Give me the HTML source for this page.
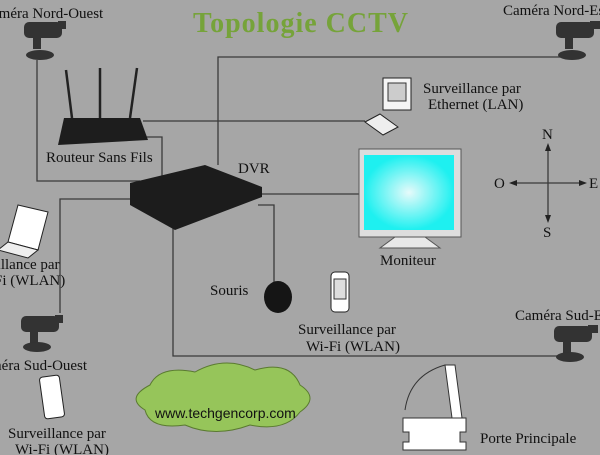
<!DOCTYPE html>
<html><head><style>
body{margin:0;background:#a6a6a6;}
svg{display:block;}
text{font-family:"Liberation Serif",serif;font-size:15px;fill:#111;}
</style></head><body>
<svg width="600" height="455" viewBox="0 0 600 455">
<rect width="600" height="455" fill="#a6a6a6"/>
<g stroke="#3a3a3a" stroke-width="1.3" fill="none">
<polyline points="37,60 37,181 140,181"/>
<polyline points="145,137 162,137 162,178"/>
<line x1="143" y1="121" x2="365" y2="121"/>
<polyline points="218,165 218,57 560,57"/>
<line x1="262" y1="194" x2="360" y2="194"/>
<polyline points="150,199 60,199 60,313"/>
<polyline points="173,228 173,356 560,356"/>
<polyline points="258,205 274,205 274,283"/>
<line x1="548" y1="146" x2="548" y2="220"/>
<line x1="512" y1="183" x2="584" y2="183"/>
</g>
<g fill="#222">
<polygon points="548,143 545,151 551,151"/><polygon points="548,223 545,215 551,215"/>
<polygon points="509,183 517,180 517,186"/><polygon points="587,183 579,180 579,186"/>
</g>
<text x="542" y="139">N</text><text x="543" y="237">S</text><text x="494" y="188">O</text><text x="589" y="188">E</text>
<text x="193" y="32" style="font-size:28px;font-weight:bold;fill:#76a33a;letter-spacing:1px">Topologie CCTV</text>
<g fill="#333">
<rect x="24" y="22" width="38" height="16" rx="5"/><rect x="58" y="21" width="8" height="8"/><rect x="33" y="38" width="8" height="11"/><ellipse cx="40" cy="55" rx="14" ry="5"/>
<rect x="556" y="22" width="38" height="16" rx="5"/><rect x="590" y="21" width="10" height="8"/><rect x="565" y="38" width="8" height="11"/><ellipse cx="572" cy="55" rx="14" ry="5"/>
<rect x="21" y="316" width="38" height="16" rx="5"/><rect x="55" y="315" width="8" height="8"/><rect x="30" y="332" width="8" height="11"/><ellipse cx="37" cy="347" rx="14" ry="5"/>
<rect x="554" y="326" width="38" height="16" rx="5"/><rect x="588" y="325" width="10" height="8"/><rect x="563" y="342" width="8" height="11"/><ellipse cx="570" cy="357" rx="14" ry="5"/>
</g>
<text x="-8" y="18">améra Nord-Ouest</text>
<text x="503" y="15">Caméra Nord-Est</text>
<text x="-10" y="370">méra Sud-Ouest</text>
<text x="515" y="320">Caméra Sud-Est</text>
<g stroke="#222" stroke-width="2.5"><line x1="66" y1="70" x2="72" y2="118"/><line x1="100" y1="68" x2="100" y2="118"/><line x1="137" y1="68" x2="130" y2="118"/></g>
<polygon points="64,118 140,118 148,140 58,145" fill="#1d1d1d"/>
<text x="46" y="162">Routeur Sans Fils</text>
<polygon points="130,183 205,165 262,187 262,197 175,230 130,205" fill="#1c1c1c"/>
<text x="238" y="173">DVR</text>
<rect x="383" y="78" width="28" height="32" fill="#f4f4f4" stroke="#222"/><rect x="388" y="83" width="18" height="18" fill="#ccc" stroke="#333"/>
<polygon points="365,122 380,114 398,127 383,135" fill="#eee" stroke="#222"/>
<text x="423" y="93">Surveillance par</text><text x="428" y="109">Ethernet (LAN)</text>
<rect x="359" y="149" width="102" height="88" fill="#ddd" stroke="#555"/>
<defs><radialGradient id="g"><stop offset="0" stop-color="#e6fafa"/><stop offset="1" stop-color="#1ef0f0"/></radialGradient></defs>
<rect x="364" y="155" width="90" height="75" fill="url(#g)"/>
<polygon points="395,237 425,237 440,248 380,248" fill="#e8e8e8" stroke="#555"/>
<text x="380" y="265">Moniteur</text>
<polygon points="18,205 48,212 38,250 8,242" fill="#fff" stroke="#222"/>
<polygon points="8,242 38,250 28,258 -2,250" fill="#eee" stroke="#222"/>
<text x="-10" y="269">eillance par</text><text x="-6" y="285">Fi (WLAN)</text>
<ellipse cx="278" cy="297" rx="14" ry="16" fill="#151515"/>
<text x="210" y="295">Souris</text>
<rect x="331" y="272" width="18" height="40" rx="4" fill="#fff" stroke="#222"/><rect x="334" y="279" width="12" height="20" fill="#ddd" stroke="#333"/>
<text x="298" y="334">Surveillance par</text><text x="306" y="351">Wi-Fi (WLAN)</text>
<rect x="42" y="376" width="20" height="42" rx="3" fill="#fff" stroke="#222" transform="rotate(-8 52 397)"/>
<text x="8" y="438">Surveillance par</text><text x="15" y="454">Wi-Fi (WLAN)</text>
<path d="M150,385 Q160,365 195,372 Q225,355 255,370 Q290,360 300,385 Q320,398 300,412 Q285,432 250,425 Q215,438 185,425 Q150,430 145,410 Q125,398 150,385 Z" fill="#96c55a" stroke="#5a7a30"/>
<text x="155" y="418" style="font-family:'Liberation Sans',sans-serif;font-size:14px">www.techgencorp.com</text>
<path d="M405,410 Q410,375 445,365" fill="none" stroke="#333"/>
<polygon points="445,365 455,365 462,418 452,418" fill="#fff" stroke="#333"/>
<polygon points="403,418 466,418 466,432 460,432 460,442 466,442 466,450 403,450 403,442 409,442 409,432 403,432" fill="#fff" stroke="#333"/>
<text x="480" y="443">Porte Principale</text>
</svg>
</body></html>
